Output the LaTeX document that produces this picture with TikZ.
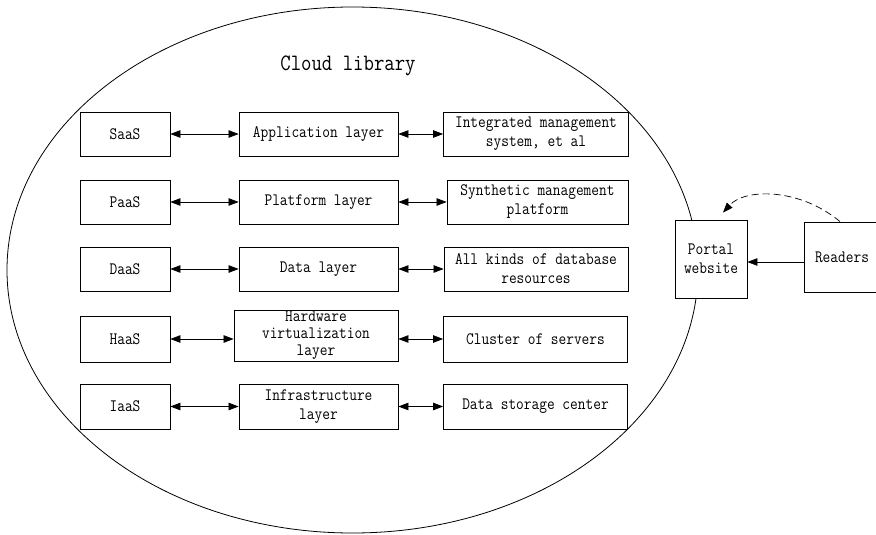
\documentclass[tikz,border=0pt]{standalone}
\usepackage{fontspec}
\setmonofont{Latin Modern Mono}[FakeStretch = 0.86]
\usetikzlibrary{arrows.meta}

\tikzset{
  layer/.style = {draw, line width = 0.8pt, fill = white, inner sep = 0pt,
    align = center, font = \ttfamily\fontsize{17.4}{19}\selectfont},
  both/.style = {{Triangle[length = 10pt, width = 7.5pt]}-{Triangle[length = 10pt, width = 7.5pt]}, line width = 0.7pt}
}

\begin{document}
\begin{tikzpicture}[x = 1pt, y = -1pt]
  \useasboundingbox (0, 0) rectangle (876, 535);
  % the cloud and its title
  \draw[line width = 0.8pt] (352.5, 270) ellipse [x radius = 345.5pt, y radius = 263pt];
  \node[font = \ttfamily\fontsize{23.5}{24}\selectfont] (title) at (348, 66) {Cloud library};
  % service models
  \node[layer, minimum width = 90pt, minimum height = 44pt] (saas) at (125, 134) {SaaS};
  \node[layer, minimum width = 90pt, minimum height = 44pt] (paas) at (125, 202) {PaaS};
  \node[layer, minimum width = 90pt, minimum height = 44pt] (daas) at (125, 269) {DaaS};
  \node[layer, minimum width = 90pt, minimum height = 46pt] (haas) at (125, 339) {HaaS};
  \node[layer, minimum width = 90pt, minimum height = 45pt] (iaas) at (125, 406.5) {IaaS};
  % layers
  \node[layer, minimum width = 159pt, minimum height = 44pt] (app) at (318.5, 134) {Application layer};
  \node[layer, minimum width = 159pt, minimum height = 44pt] (plat) at (318.5, 202) {Platform layer};
  \node[layer, minimum width = 159pt, minimum height = 44pt] (data) at (318.5, 269) {Data layer};
  \node[layer, minimum width = 164pt, minimum height = 51pt, font = \ttfamily\fontsize{17.4}{17}\selectfont] (hard) at (316, 335.5) {Hardware\\virtualization\\layer};
  \node[layer, minimum width = 159pt, minimum height = 45pt] (infra) at (318.5, 406.5) {Infrastructure\\layer};
  % resources
  \node[layer, minimum width = 185pt, minimum height = 44pt] (integ) at (536, 134) {Integrated management\\system, et al};
  \node[layer, minimum width = 181pt, minimum height = 44pt] (synth) at (537.5, 202) {Synthetic management\\platform};
  \node[layer, minimum width = 184pt, minimum height = 44pt] (dbres) at (536, 269) {All kinds of database\\resources};
  \node[layer, minimum width = 184pt, minimum height = 46pt] (clus) at (535.5, 339) {Cluster of servers};
  \node[layer, minimum width = 184pt, minimum height = 45pt] (store) at (535.5, 406.5) {Data storage center};
  % two way links in each row
  \foreach \a/\b/\c in {saas/app/integ, paas/plat/synth, daas/data/dbres, haas/hard/clus, iaas/infra/store}{
    \draw[both] (\a.east) -- (\a.east -| \b.west);
    \draw[both] (\c.west -| \b.east) -- (\c.west);
  }
  % readers and the portal
  \node[layer, minimum width = 72pt, minimum height = 78pt] (portal) at (711, 259) {Portal\\website};
  \node[layer, minimum width = 76pt, minimum height = 70pt] (readers) at (842, 257) {Readers};
  \coordinate (in) at ([yshift = -5pt]readers.west);
  \draw[-{Triangle[length = 10pt, width = 7.5pt]}, line width = 0.7pt] (in) -- (in -| portal.east);
  \coordinate (top) at ([xshift = 12pt, yshift = 7pt]portal.north);
  \draw[dashed, dash pattern = on 7pt off 4pt, line width = 0.7pt, -{Triangle[length = 10pt, width = 7.5pt]}]
  ([xshift = -2pt]readers.north) .. controls (800, 188) and (745, 188) .. (top);
\end{tikzpicture}
\end{document}
